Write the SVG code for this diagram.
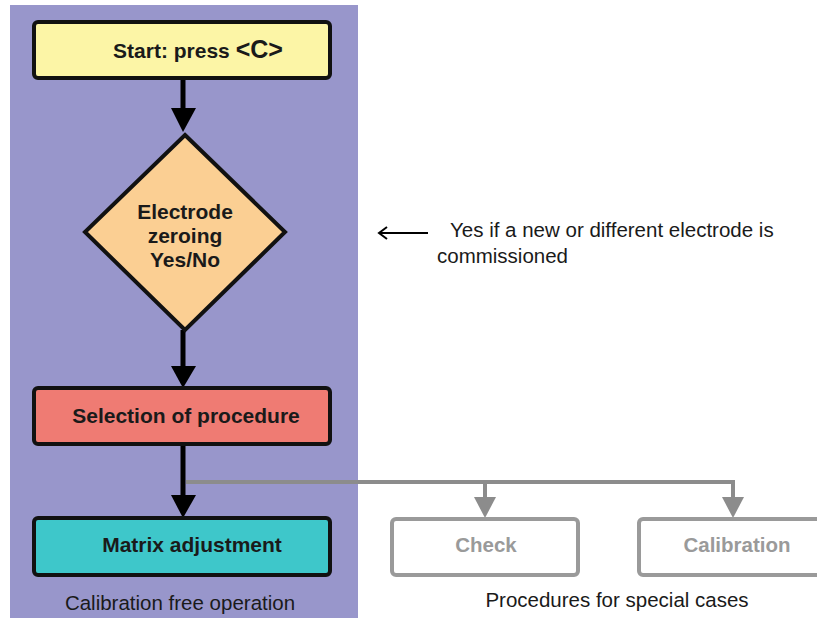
<svg xmlns="http://www.w3.org/2000/svg" width="817" height="618" viewBox="0 0 817 618">
<defs>
<style>
.box{stroke:#111;stroke-width:4}
.lbl{font-family:"Liberation Sans",Arial,sans-serif;font-weight:bold;font-size:21px;fill:#1a1a1a;text-anchor:middle}
.plain{font-family:"Liberation Sans",Arial,sans-serif;font-size:20.5px;fill:#1a1a1a}
.gbox{fill:#fff;stroke:#9a9a9a;stroke-width:4}
.glbl{font-family:"Liberation Sans",Arial,sans-serif;font-weight:bold;font-size:20.5px;fill:#9a9a9a;text-anchor:middle}
.conn{stroke:#000;stroke-width:5;fill:none}
.gconn{stroke:#8c8c8c;stroke-width:4;fill:none}
</style>
</defs>
<rect x="0" y="0" width="817" height="618" fill="#fff"/>
<rect id="panel" x="10" y="5" width="348" height="613" fill="#9896cb"/>
<g id="connectors">
<line class="conn" x1="183" y1="78" x2="183" y2="110"/>
<polygon points="171,108 196,108 183,132" fill="#000"/>
<line class="conn" x1="183" y1="330" x2="183" y2="368"/>
<polygon points="171,366 196,366 183,388" fill="#000"/>
<line class="conn" x1="183" y1="444" x2="183" y2="497"/>
<polygon points="171,495 196,495 183,518" fill="#000"/>
<polyline class="gconn" points="186,482 733,482 733,500"/>
<line class="gconn" x1="485" y1="482" x2="485" y2="500"/>
<polygon points="474,497 496,497 485,518" fill="#8c8c8c"/>
<polygon points="722,497 744,497 733,518" fill="#8c8c8c"/>
<line stroke="#000" stroke-width="2" x1="380" y1="233" x2="428" y2="233"/>
<polyline points="387,227 379,233 387,239" fill="none" stroke="#000" stroke-width="2"/>
</g>
<g id="start">
<rect class="box" x="34" y="22" width="296" height="56" rx="4" fill="#fcf5a6"/>
<text class="lbl" x="198" y="58">Start: press <tspan font-size="25px">&lt;C&gt;</tspan></text>
</g>
<g id="decision">
<polygon class="box" points="185,135 285,232 185,330 85,232" fill="#fbcf93"/>
<text class="lbl" x="185" y="219" font-size="20.5px">Electrode</text>
<text class="lbl" x="185" y="243" font-size="20.5px">zeroing</text>
<text class="lbl" x="185" y="267" font-size="20.5px">Yes/No</text>
</g>
<g id="note">
<text class="plain" x="450" y="237">Yes if a new or different electrode is</text>
<text class="plain" x="437" y="263">commissioned</text>
</g>
<g id="selection">
<rect class="box" x="34" y="388" width="296" height="56" rx="4" fill="#ef7b73"/>
<text class="lbl" x="186" y="423">Selection of procedure</text>
</g>
<g id="matrix">
<rect class="box" x="34" y="518" width="296" height="57" rx="4" fill="#3ec7ca"/>
<text class="lbl" x="192" y="552">Matrix adjustment</text>
</g>
<text class="plain" x="180" y="610" text-anchor="middle" fill="#222236">Calibration free operation</text>
<g id="check">
<rect class="gbox" x="392" y="519" width="186" height="56" rx="4"/>
<text class="glbl" x="486" y="552">Check</text>
</g>
<g id="calibration">
<rect class="gbox" x="639" y="519" width="196" height="56" rx="4"/>
<text class="glbl" x="737" y="552">Calibration</text>
</g>
<text class="plain" x="617" y="607" text-anchor="middle">Procedures for special cases</text>
</svg>
